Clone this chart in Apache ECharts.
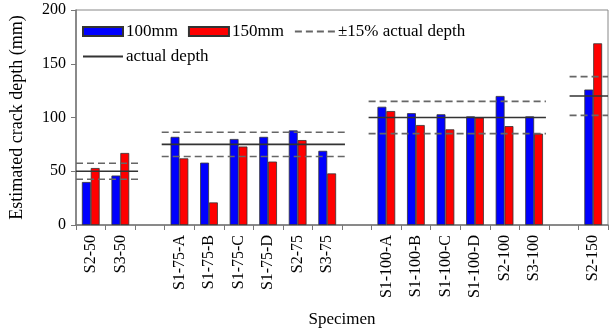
<!DOCTYPE html>
<html><head><meta charset="utf-8">
<script src="https://cdn.jsdelivr.net/npm/echarts@6/dist/echarts.min.js"></script>
<style>html,body{margin:0;padding:0;background:#fff}#c{width:616px;height:333px}</style>
</head><body><div id="c"></div>
<script>
const categories = ['S2-50','S3-50','','S1-75-A','S1-75-B','S1-75-C','S1-75-D','S2-75','S3-75','','S1-100-A','S1-100-B','S1-100-C','S1-100-D','S2-100','S3-100','','S2-150'];
const depth100 = [40,46,null,82,58,80,82,88,69,null,110,104,103,101,120,101,null,126];
const depth150 = [53,67,null,62,21,73,59,79,48,null,106,93,89,100,92,85,null,169];
const actualDepth = [50,75,100,120];
const groupStart = [0,2.9,9.9,16.7];
const groupEnd = [2.1,9.1,15.9,18];
const tolerance = 0.15;
const yTicks = [0,50,100,150,200];

const font = 'Liberation Serif';
const series = [
  {name:'100mm',type:'bar',data:depth100,barGap:'0%',barCategoryGap:'40%',
   itemStyle:{color:'#0000ff',borderColor:'#333',borderWidth:0.8}},
  {name:'150mm',type:'bar',data:depth150,
   itemStyle:{color:'#ff0000',borderColor:'#333',borderWidth:0.8}}
];
actualDepth.forEach((d,i)=>{
  [1+tolerance,1-tolerance].forEach(f=>{
    series.push({name:'±15% actual depth',type:'line',xAxisIndex:1,symbol:'none',silent:true,
      itemStyle:{color:'#666'},
      lineStyle:{color:'#666',width:1.6,type:[7,4]},
      data:[[groupStart[i],d*f],[groupEnd[i],d*f]]});
  });
  series.push({name:'actual depth',type:'line',xAxisIndex:1,symbol:'none',silent:true,
    itemStyle:{color:'#333'},
    lineStyle:{color:'#333',width:1.6},
    data:[[groupStart[i],d],[groupEnd[i],d]]});
});

const chart = echarts.init(document.getElementById('c'));
const legText = {fontFamily:font,fontSize:17,color:'#000',padding:[0,0,0,-2]};
chart.setOption({
  animation:false,
  textStyle:{fontFamily:font},
  grid:{left:74,right:8,top:10,bottom:107,show:true,borderColor:'#888',borderWidth:1},
  legend:[
    {data:[{name:'100mm',icon:'rect'},{name:'150mm',icon:'rect'},
           {name:'±15% actual depth',itemStyle:{opacity:0}}],
     left:77,top:18,itemWidth:40,itemHeight:9,itemGap:10,textStyle:legText},
    {data:[{name:'actual depth',itemStyle:{opacity:0}}],left:77,top:43,itemWidth:40,itemHeight:9,
     textStyle:legText}
  ],
  xAxis:[
    {type:'category',data:categories,
     name:'Specimen',nameLocation:'middle',nameGap:86,
     nameTextStyle:{fontFamily:font,fontSize:17,color:'#000'},
     axisLine:{lineStyle:{color:'#777',width:1.5}},
     axisTick:{show:true,length:5,lineStyle:{color:'#777'}},
     axisLabel:{interval:0,rotate:90,fontFamily:font,fontSize:16,color:'#000',margin:10}},
    {type:'value',min:0,max:categories.length,show:false}
  ],
  yAxis:{type:'value',min:yTicks[0],max:yTicks[yTicks.length-1],interval:50,
    name:'Estimated crack depth (mm)',nameLocation:'middle',nameGap:50,
    nameTextStyle:{fontFamily:font,fontSize:18,color:'#000'},
    axisLine:{show:true,lineStyle:{color:'#777',width:1.5}},
    axisTick:{show:true,length:5,lineStyle:{color:'#777'}},
    axisLabel:{fontFamily:font,fontSize:16,color:'#000',margin:10},
    splitLine:{show:false}},
  series:series
});
</script></body></html>
